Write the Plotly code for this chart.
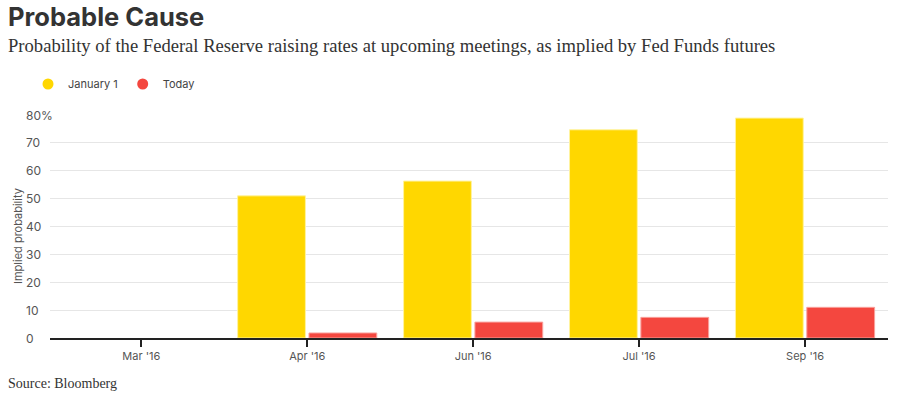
import plotly.graph_objects as go

categories = ["Mar '16", "Apr '16", "Jun '16", "Jul '16", "Sep '16"]
jan1 = [None, 51, 56.3, 74.7, 78.9]
today = [None, 1.8, 5.7, 7.4, 11.0]
y_ticks = [0, 10, 20, 30, 40, 50, 60, 70, 80]
y_tick_labels = ["0", "10", "20", "30", "40", "50", "60", "70", "80%"]

YELLOW = "#FFD700"
RED = "#F4473F"
SANS = "Inter, Liberation Sans, sans-serif"
TICK_FONT = dict(family=SANS, size=11, color="#555555")

# plot area in pixels
L, R, T, B = 50, 15, 115, 59
PW, PH = 903 - L - R, 397 - T - B

def px_x(x):
    return (x - L) / PW

def px_y(y):
    return (397 - B - y) / PH

fig = go.Figure()
fig.add_trace(go.Bar(x=categories, y=jan1, name="January 1",
                     marker=dict(color=YELLOW, line=dict(color="#FFF3A0", width=1)), showlegend=False))
fig.add_trace(go.Bar(x=categories, y=today, name="Today",
                     marker=dict(color=RED, line=dict(color="#F9A09B", width=1)), showlegend=False))
# legend entries with circle markers
fig.add_trace(go.Scatter(x=[None], y=[None], mode="markers", name="January 1",
                         marker=dict(color=YELLOW, size=11, symbol="circle")))
fig.add_trace(go.Scatter(x=[None], y=[None], mode="markers", name="Today",
                         marker=dict(color=RED, size=11, symbol="circle")))

annotations = []
for v, t in zip(y_ticks, y_tick_labels):
    annotations.append(dict(x=px_x(24), xref="paper", y=v, yref="y", text=t, showarrow=False,
                            xanchor="left", yanchor="middle",
                            font=dict(family=SANS, size=12, color="#555555")))
annotations.append(dict(x=px_x(18), xref="paper", y=px_y(236), yref="paper", text="Implied probability",
                        textangle=-90, showarrow=False, xanchor="center", yanchor="middle",
                        font=dict(family=SANS, size=11, color="#555555")))
annotations.append(dict(x=px_x(6), xref="paper", y=px_y(45), yref="paper",
                        text="Probability of the Federal Reserve raising rates at upcoming meetings, as implied by Fed Funds futures",
                        showarrow=False, xanchor="left", yanchor="middle",
                        font=dict(family="Liberation Serif, serif", size=18.6, color="#333333")))
annotations.append(dict(x=px_x(6), xref="paper", y=px_y(383), yref="paper", text="Source: Bloomberg",
                        showarrow=False, xanchor="left", yanchor="middle",
                        font=dict(family="Liberation Serif, serif", size=14, color="#333333")))

fig.update_layout(
    width=903, height=397,
    margin=dict(l=L, r=R, t=T, b=B, autoexpand=False),
    paper_bgcolor="white", plot_bgcolor="white",
    barmode="group", bargap=0.14, bargroupgap=0.05,
    title=dict(text="<b>Probable Cause</b>", x=8 / 903, xref="container", xanchor="left",
               y=1 - 17 / 397, yref="container", yanchor="middle",
               font=dict(family=SANS, size=25.5, color="#333333")),
    legend=dict(orientation="h", x=px_x(28), xanchor="left", y=px_y(84), yanchor="middle",
                font=dict(family=SANS, size=11, color="#444444"), bgcolor="rgba(0,0,0,0)"),
    xaxis=dict(range=[-0.55, 4.5], showgrid=False, showline=True, linecolor="#222222", linewidth=1.5,
               ticks="outside", ticklen=7, tickcolor="#222222", tickwidth=1.5, tickfont=TICK_FONT,
               fixedrange=True),
    yaxis=dict(range=[0, 80], tickvals=y_ticks, showticklabels=False, showgrid=True, gridcolor="#e6e6e6",
               gridwidth=1, zeroline=False, fixedrange=True),
    annotations=annotations,
)

fig.write_html("out.html", config={"displayModeBar": False},
               post_script="document.body.style.margin='0';document.body.style.overflow='hidden';")
